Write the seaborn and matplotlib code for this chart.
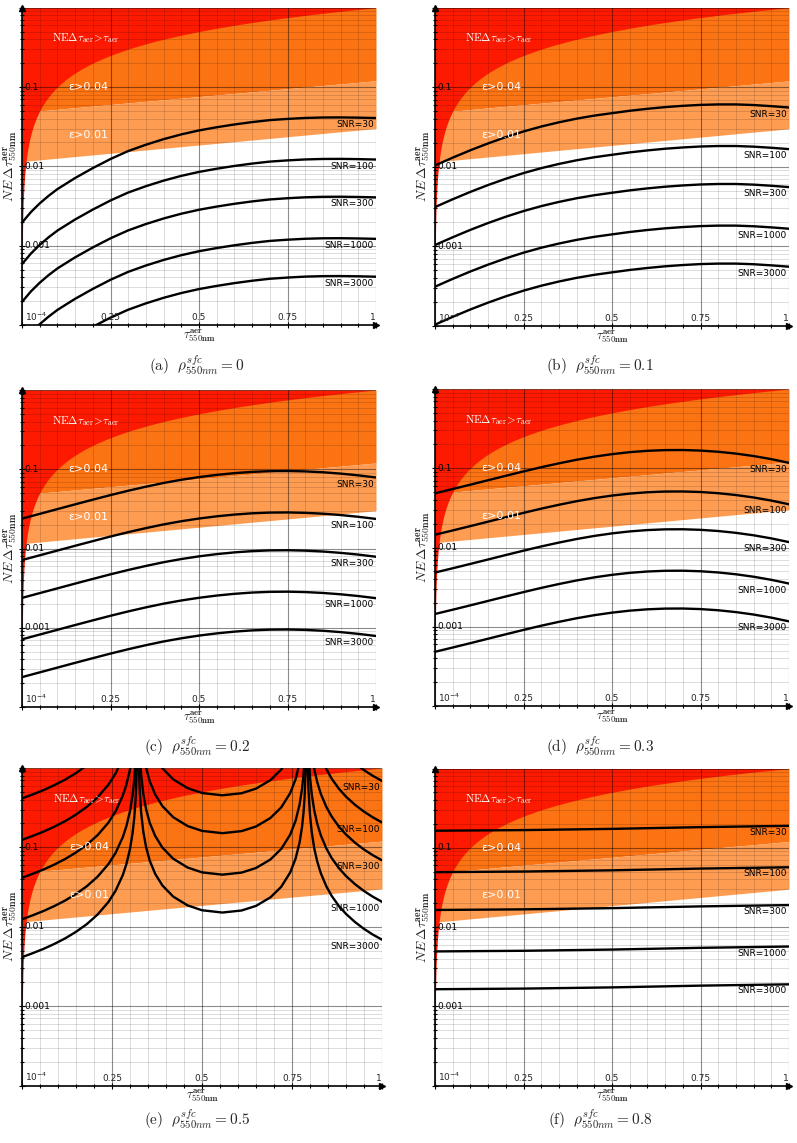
import numpy as np
import matplotlib
matplotlib.use("Agg")
import matplotlib.pyplot as plt
from matplotlib.ticker import MultipleLocator, LogLocator, NullFormatter
import seaborn as sns

# ----------------------------------------------------------------- data
SNR_LABELS = ["SNR=30", "SNR=100", "SNR=300", "SNR=1000", "SNR=3000"]
PANEL_LETTERS = ["a", "b", "c", "d", "e", "f"]
RHO_SFC = ["0", "0.1", "0.2", "0.3", "0.5", "0.8"]
X_TICKS = [0.25, 0.5, 0.75, 1.0]
X_TICK_LABELS = ["0.25", "0.5", "0.75", "1"]
Y_TICKS = [0.1, 0.01, 0.001]
Y_TICK_LABELS = ["0.1", "0.01", "0.001"]

# retrieval-error regions (lower edges at tau = 0 and tau = 1)
EPS_TAU = [0.0, 1.0]
EPS_004 = [0.0478, 0.120]
EPS_001 = [0.0115, 0.0300]

# (a) rho = 0
A_TAU = [0, 0.025, 0.05, 0.075, 0.1, 0.15, 0.2, 0.25, 0.3, 0.35, 0.4, 0.45, 0.5,
         0.55, 0.6, 0.65, 0.7, 0.75, 0.8, 0.85, 0.9, 0.95, 1.0]
A_SNR30 = [1.953e-3, 2.647e-3, 3.410e-3, 4.247e-3, 5.163e-3, 7.127e-3, 9.503e-3, 1.238e-2, 1.559e-2,
           1.874e-2, 2.202e-2, 2.529e-2, 2.837e-2, 3.111e-2, 3.372e-2, 3.613e-2, 3.827e-2, 3.963e-2,
           4.073e-2, 4.130e-2, 4.140e-2, 4.110e-2, 4.063e-2]
A_SNR100 = [5.86e-4, 7.94e-4, 1.023e-3, 1.274e-3, 1.549e-3, 2.138e-3, 2.851e-3, 3.715e-3, 4.677e-3,
            5.623e-3, 6.607e-3, 7.586e-3, 8.511e-3, 9.333e-3, 1.0116e-2, 1.0839e-2, 1.148e-2, 1.189e-2,
            1.222e-2, 1.239e-2, 1.242e-2, 1.233e-2, 1.219e-2]
A_SNR300 = [1.953e-4, 2.647e-4, 3.410e-4, 4.247e-4, 5.163e-4, 7.127e-4, 9.503e-4, 1.238e-3, 1.559e-3,
            1.874e-3, 2.202e-3, 2.529e-3, 2.837e-3, 3.111e-3, 3.372e-3, 3.613e-3, 3.827e-3, 3.963e-3,
            4.073e-3, 4.130e-3, 4.140e-3, 4.110e-3, 4.063e-3]
A_SNR1000 = [5.86e-5, 7.94e-5, 1.023e-4, 1.274e-4, 1.549e-4, 2.138e-4, 2.851e-4, 3.715e-4, 4.677e-4,
             5.623e-4, 6.607e-4, 7.586e-4, 8.511e-4, 9.333e-4, 1.0116e-3, 1.0839e-3, 1.148e-3, 1.189e-3,
             1.222e-3, 1.239e-3, 1.242e-3, 1.233e-3, 1.219e-3]
A_SNR3000 = [1.953e-5, 2.647e-5, 3.410e-5, 4.247e-5, 5.163e-5, 7.127e-5, 9.503e-5, 1.238e-4, 1.559e-4,
             1.874e-4, 2.202e-4, 2.529e-4, 2.837e-4, 3.111e-4, 3.372e-4, 3.613e-4, 3.827e-4, 3.963e-4,
             4.073e-4, 4.130e-4, 4.140e-4, 4.110e-4, 4.063e-4]

# shared tau grid for (b), (c), (d)
TAU_GRID = [0, 0.05, 0.1, 0.15, 0.2, 0.25, 0.3, 0.35, 0.4, 0.45, 0.5,
            0.55, 0.6, 0.65, 0.7, 0.75, 0.8, 0.85, 0.9, 0.95, 1.0]

# (b) rho = 0.1
B_SNR30 = [1.040e-2, 1.303e-2, 1.614e-2, 1.967e-2, 2.360e-2, 2.779e-2, 3.205e-2, 3.621e-2, 4.026e-2,
           4.394e-2, 4.719e-2, 5.057e-2, 5.356e-2, 5.622e-2, 5.833e-2, 5.996e-2, 6.080e-2, 6.080e-2,
           5.969e-2, 5.779e-2, 5.557e-2]
B_SNR100 = [3.119e-3, 3.908e-3, 4.842e-3, 5.902e-3, 7.079e-3, 8.337e-3, 9.616e-3, 1.0864e-2, 1.2078e-2,
            1.3183e-2, 1.4158e-2, 1.5171e-2, 1.6069e-2, 1.6866e-2, 1.7498e-2, 1.7989e-2, 1.8239e-2,
            1.8239e-2, 1.7906e-2, 1.7338e-2, 1.6672e-2]
B_SNR300 = [1.040e-3, 1.303e-3, 1.614e-3, 1.967e-3, 2.360e-3, 2.779e-3, 3.205e-3, 3.621e-3, 4.026e-3,
            4.394e-3, 4.719e-3, 5.057e-3, 5.356e-3, 5.622e-3, 5.833e-3, 5.996e-3, 6.080e-3, 6.080e-3,
            5.969e-3, 5.779e-3, 5.557e-3]
B_SNR1000 = [3.119e-4, 3.908e-4, 4.842e-4, 5.902e-4, 7.079e-4, 8.337e-4, 9.616e-4, 1.0864e-3, 1.2078e-3,
             1.3183e-3, 1.4158e-3, 1.5171e-3, 1.6069e-3, 1.6866e-3, 1.7498e-3, 1.7989e-3, 1.8239e-3,
             1.8239e-3, 1.7906e-3, 1.7338e-3, 1.6672e-3]
B_SNR3000 = [1.040e-4, 1.303e-4, 1.614e-4, 1.967e-4, 2.360e-4, 2.779e-4, 3.205e-4, 3.621e-4, 4.026e-4,
             4.394e-4, 4.719e-4, 5.057e-4, 5.356e-4, 5.622e-4, 5.833e-4, 5.996e-4, 6.080e-4, 6.080e-4,
             5.969e-4, 5.779e-4, 5.557e-4]

# (c) rho = 0.2
C_SNR30 = [2.382e-2, 2.735e-2, 3.141e-2, 3.606e-2, 4.130e-2, 4.721e-2, 5.358e-2, 6.026e-2, 6.714e-2,
           7.362e-2, 7.962e-2, 8.492e-2, 8.933e-2, 9.268e-2, 9.462e-2, 9.506e-2, 9.397e-2, 9.162e-2,
           8.810e-2, 8.375e-2, 7.870e-2]
C_SNR100 = [7.146e-3, 8.205e-3, 9.423e-3, 1.0818e-2, 1.239e-2, 1.4163e-2, 1.6074e-2, 1.8078e-2, 2.0142e-2,
            2.2086e-2, 2.3886e-2, 2.5476e-2, 2.6799e-2, 2.7804e-2, 2.8386e-2, 2.8518e-2, 2.8191e-2,
            2.7486e-2, 2.6430e-2, 2.5125e-2, 2.3610e-2]
C_SNR300 = [2.382e-3, 2.735e-3, 3.141e-3, 3.606e-3, 4.130e-3, 4.721e-3, 5.358e-3, 6.026e-3, 6.714e-3,
            7.362e-3, 7.962e-3, 8.492e-3, 8.933e-3, 9.268e-3, 9.462e-3, 9.506e-3, 9.397e-3, 9.162e-3,
            8.810e-3, 8.375e-3, 7.870e-3]
C_SNR1000 = [7.146e-4, 8.205e-4, 9.423e-4, 1.0818e-3, 1.239e-3, 1.4163e-3, 1.6074e-3, 1.8078e-3, 2.0142e-3,
             2.2086e-3, 2.3886e-3, 2.5476e-3, 2.6799e-3, 2.7804e-3, 2.8386e-3, 2.8518e-3, 2.8191e-3,
             2.7486e-3, 2.6430e-3, 2.5125e-3, 2.3610e-3]
C_SNR3000 = [2.382e-4, 2.735e-4, 3.141e-4, 3.606e-4, 4.130e-4, 4.721e-4, 5.358e-4, 6.026e-4, 6.714e-4,
             7.362e-4, 7.962e-4, 8.492e-4, 8.933e-4, 9.268e-4, 9.462e-4, 9.506e-4, 9.397e-4, 9.162e-4,
             8.810e-4, 8.375e-4, 7.870e-4]

# (d) rho = 0.3
D_SNR30 = [4.831e-2, 5.470e-2, 6.209e-2, 7.063e-2, 8.035e-2, 9.120e-2, 0.10304, 0.11535, 0.12794,
           0.13996, 0.15066, 0.15959, 0.16596, 0.16943, 0.16982, 0.16711, 0.16144, 0.15311, 0.14256,
           0.13032, 0.11695]
D_SNR100 = [1.4493e-2, 1.641e-2, 1.8627e-2, 2.1189e-2, 2.4105e-2, 2.736e-2, 3.0912e-2, 3.4605e-2, 3.8382e-2,
            4.1988e-2, 4.5198e-2, 4.7877e-2, 4.9788e-2, 5.0829e-2, 5.0946e-2, 5.0133e-2, 4.8432e-2,
            4.5933e-2, 4.2768e-2, 3.9096e-2, 3.5085e-2]
D_SNR300 = [4.831e-3, 5.470e-3, 6.209e-3, 7.063e-3, 8.035e-3, 9.120e-3, 1.0304e-2, 1.1535e-2, 1.2794e-2,
            1.3996e-2, 1.5066e-2, 1.5959e-2, 1.6596e-2, 1.6943e-2, 1.6982e-2, 1.6711e-2, 1.6144e-2,
            1.5311e-2, 1.4256e-2, 1.3032e-2, 1.1695e-2]
D_SNR1000 = [1.4493e-3, 1.641e-3, 1.8627e-3, 2.1189e-3, 2.4105e-3, 2.736e-3, 3.0912e-3, 3.4605e-3, 3.8382e-3,
             4.1988e-3, 4.5198e-3, 4.7877e-3, 4.9788e-3, 5.0829e-3, 5.0946e-3, 5.0133e-3, 4.8432e-3,
             4.5933e-3, 4.2768e-3, 3.9096e-3, 3.5085e-3]
D_SNR3000 = [4.831e-4, 5.470e-4, 6.209e-4, 7.063e-4, 8.035e-4, 9.120e-4, 1.0304e-3, 1.1535e-3, 1.2794e-3,
             1.3996e-3, 1.5066e-3, 1.5959e-3, 1.6596e-3, 1.6943e-3, 1.6982e-3, 1.6711e-3, 1.6144e-3,
             1.5311e-3, 1.4256e-3, 1.3032e-3, 1.1695e-3]

# (e) rho = 0.5 (two singularities where the sensitivity vanishes)
E_TAU = [0, 0.03, 0.06, 0.09, 0.12, 0.15, 0.18, 0.21, 0.24, 0.26, 0.28, 0.29, 0.30, 0.307, 0.312, 0.316, 0.3195,
         0.322,
         0.3245, 0.327, 0.331, 0.337, 0.345, 0.355, 0.37, 0.39, 0.42, 0.46, 0.5, 0.5565, 0.61, 0.65, 0.69,
         0.72, 0.745, 0.76, 0.771, 0.778, 0.782, 0.785, 0.7885,
         0.791,
         0.7935, 0.796, 0.8, 0.805, 0.812, 0.82, 0.83, 0.845, 0.86, 0.88, 0.9, 0.925, 0.95, 0.975, 1.0]
E_SNR30 = [0.414, 0.465, 0.527, 0.608, 0.714, 0.863, 1.079, 1.426, 2.051, 2.844, 4.487, 6.166, 9.57, 14.96,
           24.04, 43.75, 121.9,
           1000,
           113.0, 52.36, 27.35, 15.67, 9.908, 6.776, 4.634, 3.311, 2.399, 1.858, 1.614, 1.510, 1.603, 1.832,
           2.344, 3.184, 4.831, 7.228, 11.51, 18.32, 27.35, 42.76, 113.0,
           1000,
           111.4, 50.23, 25.59, 15.38, 9.638, 6.653, 4.732, 3.258, 2.455, 1.832, 1.452, 1.146, 0.9397, 0.7943,
           0.6871]
E_SNR100 = [0.1242, 0.1395, 0.1581, 0.1824, 0.2142, 0.2589, 0.3237, 0.4278, 0.6153, 0.8532, 1.346, 1.850,
            2.871, 4.488, 7.212, 13.13, 36.57,
            300,
            33.9, 15.71, 8.205, 4.701, 2.972, 2.033, 1.390, 0.9933, 0.7197, 0.5574, 0.4842, 0.4530, 0.4809,
            0.5496, 0.7032, 0.9552, 1.449, 2.168, 3.453, 5.496, 8.205, 12.83, 33.9,
            300,
            33.42, 15.07, 7.677, 4.614, 2.891, 1.996, 1.420, 0.9774, 0.7365, 0.5496, 0.4356, 0.3438, 0.2819,
            0.2383, 0.2061]
E_SNR300 = [4.14e-2, 4.65e-2, 5.27e-2, 6.08e-2, 7.14e-2, 8.63e-2, 0.1079, 0.1426, 0.2051, 0.2844, 0.4487,
            0.6166, 0.957, 1.496, 2.404, 4.375, 12.19,
            100,
            11.30, 5.236, 2.735, 1.567, 0.9908, 0.6776, 0.4634, 0.3311, 0.2399, 0.1858, 0.1614, 0.1510, 0.1603,
            0.1832, 0.2344, 0.3184, 0.4831, 0.7228, 1.151, 1.832, 2.735, 4.276, 11.30,
            100,
            11.14, 5.023, 2.559, 1.538, 0.9638, 0.6653, 0.4732, 0.3258, 0.2455, 0.1832, 0.1452, 0.1146,
            9.397e-2, 7.943e-2, 6.871e-2]
E_SNR1000 = [1.242e-2, 1.395e-2, 1.581e-2, 1.824e-2, 2.142e-2, 2.589e-2, 3.237e-2, 4.278e-2, 6.153e-2,
             8.532e-2, 0.1346, 0.1850, 0.2871, 0.4488, 0.7212, 1.3125, 3.657,
             30,
             3.39, 1.571, 0.8205, 0.4701, 0.2972, 0.2033, 0.1390, 9.933e-2, 7.197e-2, 5.574e-2, 4.842e-2,
             4.530e-2, 4.809e-2, 5.496e-2, 7.032e-2, 9.552e-2, 0.1449, 0.2168, 0.3453, 0.5496, 0.8205, 1.283,
             3.39,
             30,
             3.342, 1.507, 0.7677, 0.4614, 0.2891, 0.1996, 0.1420, 9.774e-2, 7.365e-2, 5.496e-2, 4.356e-2,
             3.438e-2, 2.819e-2, 2.383e-2, 2.061e-2]
E_SNR3000 = [4.14e-3, 4.65e-3, 5.27e-3, 6.08e-3, 7.14e-3, 8.63e-3, 1.079e-2, 1.426e-2, 2.051e-2, 2.844e-2,
             4.487e-2, 6.166e-2, 9.57e-2, 0.1496, 0.2404, 0.4375, 1.219,
             10,
             1.130, 0.5236, 0.2735, 0.1567, 9.908e-2, 6.776e-2, 4.634e-2, 3.311e-2, 2.399e-2, 1.858e-2,
             1.614e-2, 1.510e-2, 1.603e-2, 1.832e-2, 2.344e-2, 3.184e-2, 4.831e-2, 7.228e-2, 0.1151, 0.1832,
             0.2735, 0.4276, 1.130,
             10,
             1.114, 0.5023, 0.2559, 0.1538, 9.638e-2, 6.653e-2, 4.732e-2, 3.258e-2, 2.455e-2, 1.832e-2,
             1.452e-2, 1.146e-2, 9.397e-3, 7.943e-3, 6.871e-3]

# (f) rho = 0.8
F_TAU = [0, 0.25, 0.5, 0.75, 1.0]
F_SNR30 = [0.164, 0.167, 0.173, 0.182, 0.189]
F_SNR100 = [4.92e-2, 5.01e-2, 5.19e-2, 5.46e-2, 5.67e-2]
F_SNR300 = [1.64e-2, 1.67e-2, 1.73e-2, 1.82e-2, 1.89e-2]
F_SNR1000 = [4.92e-3, 5.01e-3, 5.19e-3, 5.46e-3, 5.67e-3]
F_SNR3000 = [1.64e-3, 1.67e-3, 1.73e-3, 1.82e-3, 1.89e-3]

PANELS = [
    (A_TAU, [A_SNR30, A_SNR100, A_SNR300, A_SNR1000, A_SNR3000]),
    (TAU_GRID, [B_SNR30, B_SNR100, B_SNR300, B_SNR1000, B_SNR3000]),
    (TAU_GRID, [C_SNR30, C_SNR100, C_SNR300, C_SNR1000, C_SNR3000]),
    (TAU_GRID, [D_SNR30, D_SNR100, D_SNR300, D_SNR1000, D_SNR3000]),
    (E_TAU, [E_SNR30, E_SNR100, E_SNR300, E_SNR1000, E_SNR3000]),
    (F_TAU, [F_SNR30, F_SNR100, F_SNR300, F_SNR1000, F_SNR3000]),
]

# ----------------------------------------------------------------- style
sns.set_theme(style="white")
plt.rcParams["font.family"] = ["DejaVu Sans"]
plt.rcParams["mathtext.fontset"] = "cm"

RED = "#fd1a00"
DARK_OR = "#fc7314"
LIGHT_OR = "#fe9c52"

W, H = 797, 1143
fig = plt.figure(figsize=(W / 100, H / 100), dpi=100, facecolor="white")

# pixel boxes: left, top, right, bottom
BOXES = [
    (22, 7.7, 376, 325.0),
    (435, 7.6, 789, 326.0),
    (22, 390.0, 376, 707.0),
    (435, 389.0, 789, 706.0),
    (22, 768.0, 382, 1085.5),
    (435, 768.5, 789, 1085.5),
]
CAPTION_POS = [(197, 366), (600, 366), (197, 747), (600, 747), (197, 1120), (600, 1120)]

# boundary of the NE dtau > tau region is tau itself
tau_fine = np.unique(np.concatenate([np.geomspace(1e-5, 1.0, 300), np.linspace(0.0, 1.0, 201)[1:]]))

for i, (tau, curves) in enumerate(PANELS):
    l, t, r, b = BOXES[i]
    ax = fig.add_axes([l / W, 1 - b / H, (r - l) / W, (b - t) / H])
    ax.set_yscale("log")
    ax.set_xlim(0, 1)
    ax.set_ylim(1e-4, 1)
    ax.set_facecolor("white")

    ax.fill_between(EPS_TAU, EPS_004, [1, 1], color=DARK_OR, lw=0, zorder=1)
    ax.fill_between(EPS_TAU, EPS_001, EPS_004, color=LIGHT_OR, lw=0, zorder=1)
    ax.fill_between(tau_fine, tau_fine, np.ones_like(tau_fine), color=RED, lw=0, zorder=1.1)

    for vals in curves:
        sns.lineplot(x=tau, y=vals, ax=ax, color="black", linewidth=1.7,
                     sort=False, estimator=None, legend=False, zorder=3)
    ax.set_xlim(0, 1)
    ax.set_ylim(1e-4, 1)
    ax.set_xlabel("")
    ax.set_ylabel("")

    # grid
    ax.xaxis.set_major_locator(MultipleLocator(0.25))
    ax.xaxis.set_minor_locator(MultipleLocator(0.05))
    ax.yaxis.set_major_locator(LogLocator(base=10, numticks=10))
    ax.yaxis.set_minor_locator(LogLocator(base=10, subs=np.arange(2, 10), numticks=40))
    ax.yaxis.set_minor_formatter(NullFormatter())
    ax.set_axisbelow(False)
    ax.grid(True, which="major", color="black", alpha=0.45, lw=0.8)
    ax.grid(True, which="minor", color="black", alpha=0.16, lw=0.6)
    ax.tick_params(which="both", direction="inout", labelleft=False, labelbottom=False,
                   left=True, bottom=True, top=False, right=False, color="black", width=0.8)
    ax.tick_params(which="major", length=4)
    ax.tick_params(which="minor", length=2.5)
    for s in ["top", "right"]:
        ax.spines[s].set_visible(False)
    for s in ["left", "bottom"]:
        ax.spines[s].set_color("black")
        ax.spines[s].set_linewidth(1.2)
    ax.plot([1], [0], marker=">", color="black", ms=4, transform=ax.transAxes, clip_on=False, zorder=5)
    ax.plot([0], [1], marker="^", color="black", ms=4, transform=ax.transAxes, clip_on=False, zorder=5)

    # tick labels inside the frame
    for yv, lab in zip(Y_TICKS, Y_TICK_LABELS):
        ax.annotate(lab, xy=(0, yv), xycoords=("axes fraction", "data"), xytext=(1.5, 0),
                    textcoords="offset points", ha="left", va="center", fontsize=6.5,
                    color="black", zorder=6)
    ax.annotate(r"$10^{-4}$", xy=(0, 1e-4), xycoords=("axes fraction", "data"), xytext=(2.5, 1.5),
                textcoords="offset points", ha="left", va="bottom", fontsize=6.5,
                math_fontfamily="dejavusans", zorder=6)
    for xv, lab in zip(X_TICKS, X_TICK_LABELS):
        ha = "right" if xv == 1.0 else "center"
        ax.annotate(lab, xy=(xv, 0), xycoords=("data", "axes fraction"), xytext=(0, 2),
                    textcoords="offset points", ha=ha, va="bottom", fontsize=6.5, zorder=6)

    # region labels
    ax.text(0.18, 0.41, r"$\mathrm{NE}\Delta\tau_{\mathrm{aer}}\!>\!\tau_{\mathrm{aer}}$", color="white",
            fontsize=8, ha="center", va="center", zorder=6)
    ax.text(0.132, 0.1, "ε>0.04", color="white", fontsize=8, ha="left", va="center", zorder=6)
    ax.text(0.132, 0.025, "ε>0.01", color="white", fontsize=8, ha="left", va="center", zorder=6)

    # SNR labels at curve ends
    for vals, lab in zip(curves, SNR_LABELS):
        ax.annotate(lab, xy=(1.0, vals[-1]), xytext=(-1.5, -1.5), textcoords="offset points",
                    ha="right", va="top", fontsize=6.5, color="black", zorder=6)

    # axis titles
    ax.text(-0.032, 0.5, r"$NE\,\Delta\tau^{\mathbf{aer}}_{\mathbf{550nm}}$", transform=ax.transAxes,
            rotation=90, ha="center", va="center", fontsize=10)
    ax.text(0.5, -0.032, r"$\tau^{\mathbf{aer}}_{\mathbf{550nm}}$", transform=ax.transAxes,
            ha="center", va="center", fontsize=9)

    cx, cy = CAPTION_POS[i]
    fig.text(cx / W, 1 - cy / H,
             r"$\mathrm{(%s)}\ \ \rho^{sfc}_{550nm}=%s$" % (PANEL_LETTERS[i], RHO_SFC[i]),
             ha="center", va="center", fontsize=11)

fig.savefig("out.png", dpi=100, facecolor="white")
